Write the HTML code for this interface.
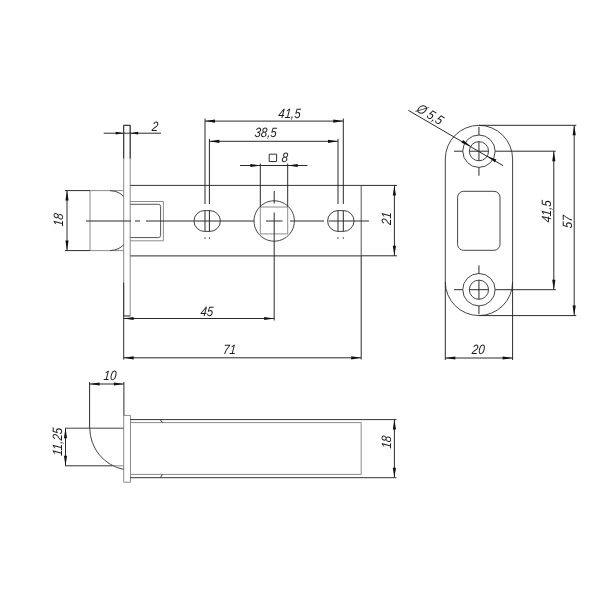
<!DOCTYPE html>
<html><head><meta charset="utf-8"><title>Latch drawing</title>
<style>
html,body{margin:0;padding:0;background:#fff;}
svg{display:block;filter:grayscale(1)}
text{font-family:"Liberation Sans",sans-serif;font-style:italic;fill:#1c1c1c;}
</style></head><body>
<svg width="600" height="600" viewBox="0 0 600 600">
<rect width="600" height="600" fill="#fff"/>
<path d="M123.7,125.3 V316.0 H130.2 V125.3 Z" stroke="#8c8c8c" stroke-width="1" fill="none"/>
<line x1="123.7" y1="125.3" x2="130.2" y2="125.3" stroke="#2a2a2a" stroke-width="1" />
<line x1="123.7" y1="125.3" x2="123.7" y2="158.5" stroke="#2a2a2a" stroke-width="1" />
<line x1="130.2" y1="125.3" x2="130.2" y2="158.5" stroke="#2a2a2a" stroke-width="1" />
<line x1="123.7" y1="282.5" x2="123.7" y2="316.0" stroke="#2a2a2a" stroke-width="1" />
<line x1="123.7" y1="316.0" x2="130.2" y2="316.0" stroke="#555" stroke-width="1" />
<line x1="130.2" y1="185.4" x2="361.2" y2="185.4" stroke="#333" stroke-width="1" />
<line x1="130.2" y1="255.8" x2="361.2" y2="255.8" stroke="#555" stroke-width="1.3" />
<line x1="361.2" y1="185.4" x2="361.2" y2="255.8" stroke="#555" stroke-width="1" />
<line x1="90" y1="190.6" x2="90" y2="250.6" stroke="#8c8c8c" stroke-width="1" />
<line x1="90" y1="190.6" x2="123.7" y2="190.6" stroke="#8c8c8c" stroke-width="1" />
<line x1="90" y1="250.6" x2="123.7" y2="250.6" stroke="#8c8c8c" stroke-width="1" />
<path d="M110,190.6 Q119,191.1 123.7,196.6" stroke="#444" stroke-width="1" fill="none"/>
<path d="M110,250.6 Q119,250.1 123.7,244.6" stroke="#444" stroke-width="1" fill="none"/>
<path d="M130.2,201.5 H163.4 V240.8 H130.2" stroke="#8c8c8c" stroke-width="1" fill="none"/>
<path d="M130.2,204.3 H158.5 Q160.6,204.3 160.6,206.3 V235.5 Q160.6,237.6 158.5,237.6 H130.2" stroke="#555" stroke-width="1" fill="none"/>
<line x1="86" y1="221.0" x2="131" y2="221.0" stroke="#2a2a2a" stroke-width="1" />
<line x1="135" y1="221.0" x2="140" y2="221.0" stroke="#2a2a2a" stroke-width="1" />
<line x1="146" y1="221.0" x2="254" y2="221.0" stroke="#2a2a2a" stroke-width="1" />
<line x1="266" y1="221.0" x2="282.5" y2="221.0" stroke="#2a2a2a" stroke-width="1" />
<line x1="290" y1="221.0" x2="324" y2="221.0" stroke="#2a2a2a" stroke-width="1" />
<line x1="328.5" y1="221.0" x2="369" y2="221.0" stroke="#2a2a2a" stroke-width="1" />
<path d="M204.39999999999998,210.6 H210.0 A10.2,10.2 0 0 1 210.0,231.4 H204.39999999999998 A10.2,10.2 0 0 1 204.39999999999998,210.6 Z" stroke="#444" stroke-width="1" fill="none"/>
<path d="M338.0,210.6 H343.6 A10.2,10.2 0 0 1 343.6,231.4 H338.0 A10.2,10.2 0 0 1 338.0,210.6 Z" stroke="#444" stroke-width="1" fill="none"/>
<path d="M274.2,200.8 a20.2,20.2 0 1 0 0.01,0 Z" stroke="#444" stroke-width="1" fill="none"/>
<path d="M260.3,207 H287.7 V233.9 H260.3 Z" stroke="#8c8c8c" stroke-width="1" fill="none"/>
<line x1="274.2" y1="191" x2="274.2" y2="203.5" stroke="#2a2a2a" stroke-width="1" />
<line x1="274.2" y1="212.5" x2="274.2" y2="320.5" stroke="#2a2a2a" stroke-width="1" />
<line x1="205" y1="118.5" x2="205" y2="204" stroke="#2a2a2a" stroke-width="1" />
<line x1="205" y1="210.6" x2="205" y2="231.4" stroke="#2a2a2a" stroke-width="1" />
<line x1="205" y1="237.3" x2="205" y2="238.8" stroke="#2a2a2a" stroke-width="1" />
<line x1="209.4" y1="138.8" x2="209.4" y2="204" stroke="#2a2a2a" stroke-width="1" />
<line x1="209.4" y1="210.6" x2="209.4" y2="231.4" stroke="#2a2a2a" stroke-width="1" />
<line x1="209.4" y1="237.3" x2="209.4" y2="238.8" stroke="#2a2a2a" stroke-width="1" />
<line x1="343.3" y1="118.5" x2="343.3" y2="204" stroke="#2a2a2a" stroke-width="1" />
<line x1="343.3" y1="210.6" x2="343.3" y2="231.4" stroke="#2a2a2a" stroke-width="1" />
<line x1="343.3" y1="237.3" x2="343.3" y2="238.8" stroke="#2a2a2a" stroke-width="1" />
<line x1="338" y1="138.8" x2="338" y2="204" stroke="#2a2a2a" stroke-width="1" />
<line x1="338" y1="210.6" x2="338" y2="231.4" stroke="#2a2a2a" stroke-width="1" />
<line x1="338" y1="237.3" x2="338" y2="238.8" stroke="#2a2a2a" stroke-width="1" />
<line x1="205" y1="121.1" x2="343.3" y2="121.1" stroke="#2a2a2a" stroke-width="1" />
<polygon points="205.00,121.10 215.00,119.50 215.00,122.70" fill="#111"/>
<polygon points="343.30,121.10 333.30,122.70 333.30,119.50" fill="#111"/>
<line x1="209.4" y1="141.3" x2="338" y2="141.3" stroke="#2a2a2a" stroke-width="1" />
<polygon points="209.40,141.30 219.40,139.70 219.40,142.90" fill="#111"/>
<polygon points="338.00,141.30 328.00,142.90 328.00,139.70" fill="#111"/>
<text transform="translate(289.2,117.6) rotate(0) scale(0.85,1) skewX(-6)" font-size="13.5" text-anchor="middle">41,5</text>
<text transform="translate(265.3,137.3) rotate(0) scale(0.85,1) skewX(-6)" font-size="13.5" text-anchor="middle">38,5</text>
<line x1="260.3" y1="163.5" x2="260.3" y2="207" stroke="#2a2a2a" stroke-width="1" />
<line x1="287.7" y1="163.5" x2="287.7" y2="207" stroke="#2a2a2a" stroke-width="1" />
<line x1="240" y1="165.5" x2="307.5" y2="165.5" stroke="#2a2a2a" stroke-width="1" />
<polygon points="260.30,165.50 250.30,167.10 250.30,163.90" fill="#111"/>
<polygon points="287.70,165.50 297.70,163.90 297.70,167.10" fill="#111"/>
<path d="M269.2,154.2 H276.6 V161.5 H269.2 Z" stroke="#333" stroke-width="1" fill="none"/>
<text transform="translate(284.4,162.4) rotate(0) scale(0.85,1) skewX(-6)" font-size="13.5" text-anchor="middle">8</text>
<line x1="103.7" y1="133.2" x2="161" y2="133.2" stroke="#2a2a2a" stroke-width="1" />
<polygon points="123.70,133.20 115.70,134.60 115.70,131.80" fill="#111"/>
<polygon points="130.20,133.20 138.20,131.80 138.20,134.60" fill="#111"/>
<text transform="translate(154.7,130.5) rotate(0) scale(0.85,1) skewX(-6)" font-size="13.5" text-anchor="middle">2</text>
<line x1="65" y1="190.6" x2="90" y2="190.6" stroke="#2a2a2a" stroke-width="1" />
<line x1="65" y1="250.6" x2="90" y2="250.6" stroke="#2a2a2a" stroke-width="1" />
<line x1="67" y1="190.6" x2="67" y2="250.6" stroke="#2a2a2a" stroke-width="1" />
<polygon points="67.00,190.60 68.60,200.60 65.40,200.60" fill="#111"/>
<polygon points="67.00,250.60 65.40,240.60 68.60,240.60" fill="#111"/>
<text transform="translate(63,220) rotate(-90) scale(0.85,1) skewX(-6)" font-size="13.5" text-anchor="middle">18</text>
<line x1="361.2" y1="185.4" x2="397" y2="185.4" stroke="#2a2a2a" stroke-width="1" />
<line x1="361.2" y1="255.8" x2="397" y2="255.8" stroke="#2a2a2a" stroke-width="1" />
<line x1="394.4" y1="185.4" x2="394.4" y2="255.8" stroke="#2a2a2a" stroke-width="1" />
<polygon points="394.40,185.40 396.00,195.40 392.80,195.40" fill="#111"/>
<polygon points="394.40,255.80 392.80,245.80 396.00,245.80" fill="#111"/>
<text transform="translate(391,218.8) rotate(-90) scale(0.85,1) skewX(-6)" font-size="13.5" text-anchor="middle">21</text>
<line x1="123.7" y1="318.5" x2="274.2" y2="318.5" stroke="#2a2a2a" stroke-width="1" />
<polygon points="123.70,318.50 133.70,316.90 133.70,320.10" fill="#111"/>
<polygon points="274.20,318.50 264.20,320.10 264.20,316.90" fill="#111"/>
<text transform="translate(206.6,315.5) rotate(0) scale(0.85,1) skewX(-6)" font-size="13.5" text-anchor="middle">45</text>
<line x1="123.7" y1="316.0" x2="123.7" y2="359.5" stroke="#2a2a2a" stroke-width="1" />
<line x1="361.2" y1="255.8" x2="361.2" y2="359.5" stroke="#2a2a2a" stroke-width="1" />
<line x1="123.7" y1="357.8" x2="361.2" y2="357.8" stroke="#2a2a2a" stroke-width="1" />
<polygon points="123.70,357.80 133.70,356.20 133.70,359.40" fill="#111"/>
<polygon points="361.20,357.80 351.20,359.40 351.20,356.20" fill="#111"/>
<text transform="translate(229.2,354.3) rotate(0) scale(0.85,1) skewX(-6)" font-size="13.5" text-anchor="middle">71</text>
<path d="M445.3,158.95 A33.650000000000006,33.650000000000006 0 0 1 512.6,158.95 V281.95000000000005 A33.650000000000006,33.650000000000006 0 0 1 445.3,281.95000000000005 Z" stroke="#444" stroke-width="1" fill="none"/>
<circle cx="478.95000000000005" cy="151.2" r="16.2" stroke="#444" fill="none"/>
<circle cx="478.95000000000005" cy="151.2" r="9.6" stroke="#444" fill="none"/>
<circle cx="478.95000000000005" cy="289.7" r="16.2" stroke="#444" fill="none"/>
<circle cx="478.95000000000005" cy="289.7" r="9.6" stroke="#444" fill="none"/>
<rect x="457.6" y="191.3" width="42.4" height="59" rx="6" ry="6" stroke="#444" fill="none"/>
<line x1="454" y1="151.2" x2="462.75000000000006" y2="151.2" stroke="#2a2a2a" stroke-width="1" />
<line x1="469.35" y1="151.2" x2="488.55000000000007" y2="151.2" stroke="#2a2a2a" stroke-width="1" />
<line x1="495.15000000000003" y1="151.2" x2="555.8" y2="151.2" stroke="#2a2a2a" stroke-width="1" />
<line x1="478.95000000000005" y1="126.89999999999999" x2="478.95000000000005" y2="135.0" stroke="#2a2a2a" stroke-width="1" />
<line x1="478.95000000000005" y1="141.6" x2="478.95000000000005" y2="160.79999999999998" stroke="#2a2a2a" stroke-width="1" />
<line x1="478.95000000000005" y1="167.39999999999998" x2="478.95000000000005" y2="175.7" stroke="#2a2a2a" stroke-width="1" />
<line x1="454" y1="289.7" x2="462.75000000000006" y2="289.7" stroke="#2a2a2a" stroke-width="1" />
<line x1="469.35" y1="289.7" x2="488.55000000000007" y2="289.7" stroke="#2a2a2a" stroke-width="1" />
<line x1="495.15000000000003" y1="289.7" x2="555.8" y2="289.7" stroke="#2a2a2a" stroke-width="1" />
<line x1="478.95000000000005" y1="265.4" x2="478.95000000000005" y2="273.5" stroke="#2a2a2a" stroke-width="1" />
<line x1="478.95000000000005" y1="280.09999999999997" x2="478.95000000000005" y2="299.3" stroke="#2a2a2a" stroke-width="1" />
<line x1="478.95000000000005" y1="305.9" x2="478.95000000000005" y2="314.2" stroke="#2a2a2a" stroke-width="1" />
<line x1="478.95000000000005" y1="125.3" x2="576.3" y2="125.3" stroke="#2a2a2a" stroke-width="1" />
<line x1="478.95000000000005" y1="315.6" x2="576.3" y2="315.6" stroke="#2a2a2a" stroke-width="1" />
<line x1="574.2" y1="125.3" x2="574.2" y2="315.6" stroke="#2a2a2a" stroke-width="1" />
<polygon points="574.20,125.30 575.80,135.30 572.60,135.30" fill="#111"/>
<polygon points="574.20,315.60 572.60,305.60 575.80,305.60" fill="#111"/>
<line x1="553.8" y1="151.2" x2="553.8" y2="289.7" stroke="#2a2a2a" stroke-width="1" />
<polygon points="553.80,151.20 555.40,161.20 552.20,161.20" fill="#111"/>
<polygon points="553.80,289.70 552.20,279.70 555.40,279.70" fill="#111"/>
<text transform="translate(551,211.7) rotate(-90) scale(0.85,1) skewX(-6)" font-size="13.5" text-anchor="middle">41,5</text>
<text transform="translate(572,222) rotate(-90) scale(0.85,1) skewX(-6)" font-size="13.5" text-anchor="middle">57</text>
<line x1="445.3" y1="281.95000000000005" x2="445.3" y2="360" stroke="#2a2a2a" stroke-width="1" />
<line x1="512.6" y1="281.95000000000005" x2="512.6" y2="360" stroke="#2a2a2a" stroke-width="1" />
<line x1="445.3" y1="358" x2="512.6" y2="358" stroke="#2a2a2a" stroke-width="1" />
<polygon points="445.30,358.00 455.30,356.40 455.30,359.60" fill="#111"/>
<polygon points="512.60,358.00 502.60,359.60 502.60,356.40" fill="#111"/>
<text transform="translate(478,354) rotate(0) scale(0.85,1) skewX(-6)" font-size="13.5" text-anchor="middle">20</text>
<line x1="408.3" y1="110.3" x2="503" y2="165.63821194897827" stroke="#2a2a2a" stroke-width="1" />
<polygon points="470.92,146.51 461.48,142.84 463.09,140.08" fill="#111"/>
<polygon points="486.98,155.89 496.42,159.56 494.81,162.32" fill="#111"/>
<text transform="translate(415.4,111.0) rotate(30.3) scale(0.85,1) skewX(-6)" font-size="13.5" text-anchor="start">Ø 5,5</text>
<path d="M123.7,415.4 H130.5 V482.2 H123.7 Z" stroke="#8c8c8c" stroke-width="1" fill="none"/>
<line x1="130.2" y1="419.6" x2="396.5" y2="419.6" stroke="#333" stroke-width="1" />
<line x1="130.2" y1="477.7" x2="396.5" y2="477.7" stroke="#333" stroke-width="1" />
<path d="M130.2,422.6 H361.2 V474.4 H130.2" stroke="#8c8c8c" stroke-width="1" fill="none"/>
<line x1="160.5" y1="420" x2="162.5" y2="422.6" stroke="#333" stroke-width="1" />
<line x1="160.5" y1="477.3" x2="162.5" y2="474.4" stroke="#333" stroke-width="1" />
<line x1="65" y1="428.2" x2="123.7" y2="428.2" stroke="#444" stroke-width="1" />
<line x1="65" y1="465.8" x2="112" y2="465.8" stroke="#333" stroke-width="1" />
<line x1="112" y1="465.8" x2="123.7" y2="465.8" stroke="#8c8c8c" stroke-width="1" />
<path d="M89.8,428.2 A42,42 0 0 0 123.7,469.4" stroke="#444" stroke-width="1" fill="none"/>
<line x1="89.6" y1="382" x2="89.6" y2="428.2" stroke="#2a2a2a" stroke-width="1" />
<line x1="123.9" y1="382" x2="123.9" y2="415.4" stroke="#2a2a2a" stroke-width="1" />
<line x1="89.6" y1="384" x2="123.9" y2="384" stroke="#2a2a2a" stroke-width="1" />
<polygon points="89.60,384.00 99.60,382.40 99.60,385.60" fill="#111"/>
<polygon points="123.90,384.00 113.90,385.60 113.90,382.40" fill="#111"/>
<text transform="translate(109.7,380.4) rotate(0) scale(0.85,1) skewX(-6)" font-size="13.5" text-anchor="middle">10</text>
<line x1="65.5" y1="428.2" x2="65.5" y2="465.8" stroke="#2a2a2a" stroke-width="1" />
<polygon points="65.50,428.20 67.10,438.20 63.90,438.20" fill="#111"/>
<polygon points="65.50,465.80 63.90,455.80 67.10,455.80" fill="#111"/>
<text transform="translate(61.9,442) rotate(-90) scale(0.85,1) skewX(-6)" font-size="13.5" text-anchor="middle">11,25</text>
<line x1="394.4" y1="419.6" x2="394.4" y2="477.7" stroke="#2a2a2a" stroke-width="1" />
<polygon points="394.40,419.60 396.00,429.60 392.80,429.60" fill="#111"/>
<polygon points="394.40,477.70 392.80,467.70 396.00,467.70" fill="#111"/>
<text transform="translate(391.3,442.4) rotate(-90) scale(0.85,1) skewX(-6)" font-size="13.5" text-anchor="middle">18</text>
</svg>
</body></html>
